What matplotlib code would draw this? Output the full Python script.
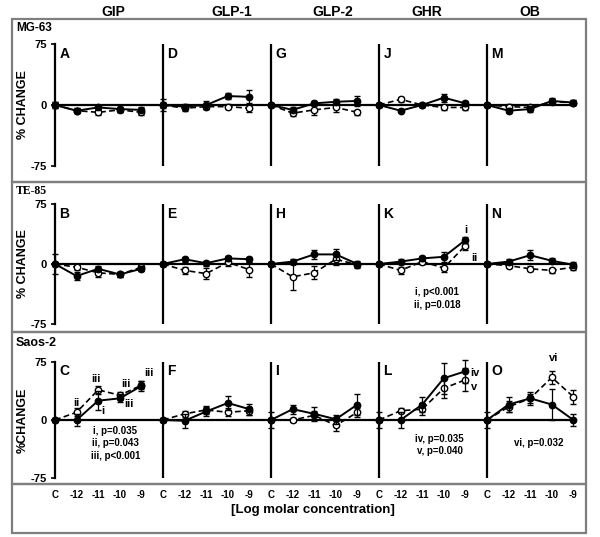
import matplotlib.pyplot as plt
from matplotlib.patches import Rectangle

plt.rcParams['font.family'] = ['Liberation Sans', 'DejaVu Sans']

peptides = ["GIP", "GLP-1", "GLP-2", "GHR", "OB"]
conc_labels = ["C", "-12", "-11", "-10", "-9"]
cells = ["MG-63", "TE-85", "Saos-2"]
letters = [["A", "D", "G", "J", "M"],
           ["B", "E", "H", "K", "N"],
           ["C", "F", "I", "L", "O"]]

# % change, solid line / filled circles
mg63_solid = [[0, -7, -3, -5, -6], [0, -2, 0, 11, 10], [0, -6, 2, 4, 5],
              [0, -7, 0, 9, 2], [0, -7, -5, 5, 3]]
mg63_solid_err = [[4, 3, 2, 3, 3], [7, 3, 5, 4, 8], [3, 3, 3, 3, 6],
                  [3, 2, 2, 5, 3], [3, 3, 4, 3, 3]]
# % change, dashed line / open circles
mg63_dash = [[0, -7, -9, -6, -9], [0, -4, -2, -2, -4], [0, -10, -6, -3, -9],
             [0, 7, 0, -3, -3], [0, -2, -3, 4, 3]]
mg63_dash_err = [[4, 3, 3, 3, 3], [4, 3, 3, 3, 4], [3, 3, 6, 5, 3],
                 [3, 3, 2, 3, 3], [3, 3, 3, 3, 3]]

te85_solid = [[0, -15, -6, -13, -6], [0, 6, 1, 7, 6], [0, 3, 12, 12, 0],
              [0, 3, 7, 9, 30], [0, 3, 11, 4, -1]]
te85_solid_err = [[13, 5, 3, 3, 3], [3, 3, 3, 3, 3], [3, 3, 6, 7, 4],
                  [3, 3, 3, 6, 4], [3, 3, 6, 3, 3]]
te85_dash = [[0, -4, -11, -13, -4], [0, -8, -12, 2, -7], [0, -16, -11, 6, -1],
             [0, -8, 3, -5, 23], [0, -2, -6, -8, -4]]
te85_dash_err = [[3, 3, 5, 3, 3], [3, 4, 7, 4, 9], [3, 16, 8, 7, 4],
                 [3, 4, 3, 5, 6], [3, 3, 3, 3, 3]]

saos2_solid = [[0, 0, 25, 28, 44], [0, -1, 11, 22, 14], [0, 14, 8, 1, 20],
               [0, 0, 20, 54, 63], [0, 20, 28, 20, 0]]
saos2_solid_err = [[3, 8, 12, 5, 6], [3, 9, 6, 9, 7], [10, 6, 9, 6, 13],
                   [10, 10, 10, 20, 15], [10, 10, 8, 20, 8]]
saos2_dash = [[0, 10, 39, 32, 45], [0, 8, 13, 10, 12], [0, 0, 6, -7, 10],
              [0, 12, 14, 41, 52], [0, 17, 28, 55, 30]]
saos2_dash_err = [[3, 5, 5, 4, 5], [3, 4, 5, 5, 5], [3, 3, 5, 7, 6],
                  [3, 3, 8, 12, 15], [3, 7, 6, 8, 9]]

rows = [(mg63_solid, mg63_solid_err, mg63_dash, mg63_dash_err),
        (te85_solid, te85_solid_err, te85_dash, te85_dash_err),
        (saos2_solid, saos2_solid_err, saos2_dash, saos2_dash_err)]

W, H = 600, 537
fig = plt.figure(figsize=(6, 5.37), dpi=100)

# row geometry in pixels: (y of +75, y of -75)
row_px = [(44, 166), (204, 324), (362, 478)]
unit = 21.6
x0_px = 55
xmin, xmax = -0.7, 24.6

# gray frames
for (y1, y2) in [(19, 182), (182, 332), (332, 484), (484, 533)]:
    fig.patches.append(Rectangle((12 / W, 1 - y2 / H), 574 / W, (y2 - y1) / H,
                                 transform=fig.transFigure, fill=False,
                                 edgecolor="#7f7f7f", lw=1.6))

axes = []
for r, (top, bot) in enumerate(row_px):
    left = (x0_px + xmin * unit) / W
    width = (xmax - xmin) * unit / W
    ax = fig.add_axes([left, 1 - bot / H, width, (bot - top) / H])
    ax.set_xlim(xmin, xmax)
    ax.set_ylim(-75, 75)
    for s in ["top", "right", "bottom"]:
        ax.spines[s].set_visible(False)
    ax.spines["left"].set_position(("data", 0))
    ax.spines["left"].set_linewidth(1.6)
    ax.set_yticks([-75, 0, 75])
    ax.set_yticklabels(["-75", "0", "75"], fontsize=8, fontweight="bold")
    ax.tick_params(axis="y", length=3, width=1.2, pad=3)
    ax.set_xticks([])
    ax.patch.set_alpha(0)
    ax.hlines(0, 0, 24, color="black", lw=1.6, zorder=1)
    ax.vlines([5, 10, 15, 20], -75, 75, color="black", lw=1.6, zorder=1)

    solid, solid_err, dash, dash_err = rows[r]
    for p in range(5):
        xs = [5 * p + i for i in range(5)]
        ax.errorbar(xs, dash[p], yerr=dash_err[p], fmt="o--", color="black",
                    mfc="white", mec="black", ms=4.6, lw=1.2, elinewidth=0.9,
                    capsize=2, dashes=(3.5, 2), zorder=3, clip_on=False)
        ax.errorbar(xs, solid[p], yerr=solid_err[p], fmt="o-", color="black",
                    ms=4.6, lw=1.4, elinewidth=0.9, capsize=2, zorder=4,
                    clip_on=False)
        ax.text(5 * p + 0.2, 63, letters[r][p], fontsize=10,
                fontweight="bold", va="center", ha="left")

    ylab = "%CHANGE" if r == 2 else "% CHANGE"
    fig.text(23 / W, 1 - ((top + bot) / 2) / H, ylab, rotation=90,
             ha="center", va="center", fontsize=9, fontweight="bold")
    axes.append(ax)

# row titles
fig.text(16 / W, 1 - 28 / H, cells[0], fontsize=8.5, fontweight="bold", va="center")
fig.text(16 / W, 1 - 191 / H, cells[1], fontsize=8.5, fontweight="bold",
         va="center", family="Liberation Serif")
fig.text(16 / W, 1 - 343 / H, cells[2], fontsize=9, fontweight="bold", va="center")

# column titles
for name, px in zip(peptides, [113, 232, 333, 427, 530]):
    fig.text(px / W, 1 - 12 / H, name, fontsize=10, fontweight="bold",
             ha="center", va="center")

# significance marks
ax2, ax3 = axes[1], axes[2]
kw = dict(fontsize=8, fontweight="bold", ha="center", va="center")
ax2.text(19.0, 43, "i", **kw)
ax2.text(19.4, 8, "ii", **kw)
ax2.text(17.7, -43, "i, p<0.001\nii, p=0.018", fontsize=7, fontweight="bold",
         ha="center", va="center", linespacing=1.3)

ax3.text(1.0, 22, "ii", **kw)
ax3.text(1.9, 53, "iii", **kw)
ax3.text(3.3, 47, "iii", **kw)
ax3.text(3.4, 21, "iii", **kw)
ax3.text(2.2, 12, "i", **kw)
ax3.text(4.35, 61, "iii", **kw)
ax3.text(2.8, -30, "i, p=0.035\nii, p=0.043\niii, p<0.001", fontsize=7,
         fontweight="bold", ha="center", va="center", linespacing=1.3)
ax3.text(19.45, 61, "iv", **kw)
ax3.text(19.4, 43, "v", **kw)
ax3.text(17.8, -32, "iv, p=0.035\nv, p=0.040", fontsize=7, fontweight="bold",
         ha="center", va="center", linespacing=1.3)
ax3.text(23.1, 80, "vi", **kw)
ax3.text(22.4, -30, "vi, p=0.032", fontsize=7, fontweight="bold",
         ha="center", va="center")

# concentration axis in the bottom box
tick_x = [5 * p + i for p in range(5) for i in range(5)]
ax3.set_xticks(tick_x)
ax3.set_xticklabels(conc_labels * 5, fontsize=7, fontweight="bold")
ax3.tick_params(axis="x", length=0, pad=9)
fig.text(313 / W, 1 - 510 / H, "[Log molar concentration]", fontsize=9.5,
         fontweight="bold", ha="center", va="center")

fig.savefig("out.png", dpi=100)
